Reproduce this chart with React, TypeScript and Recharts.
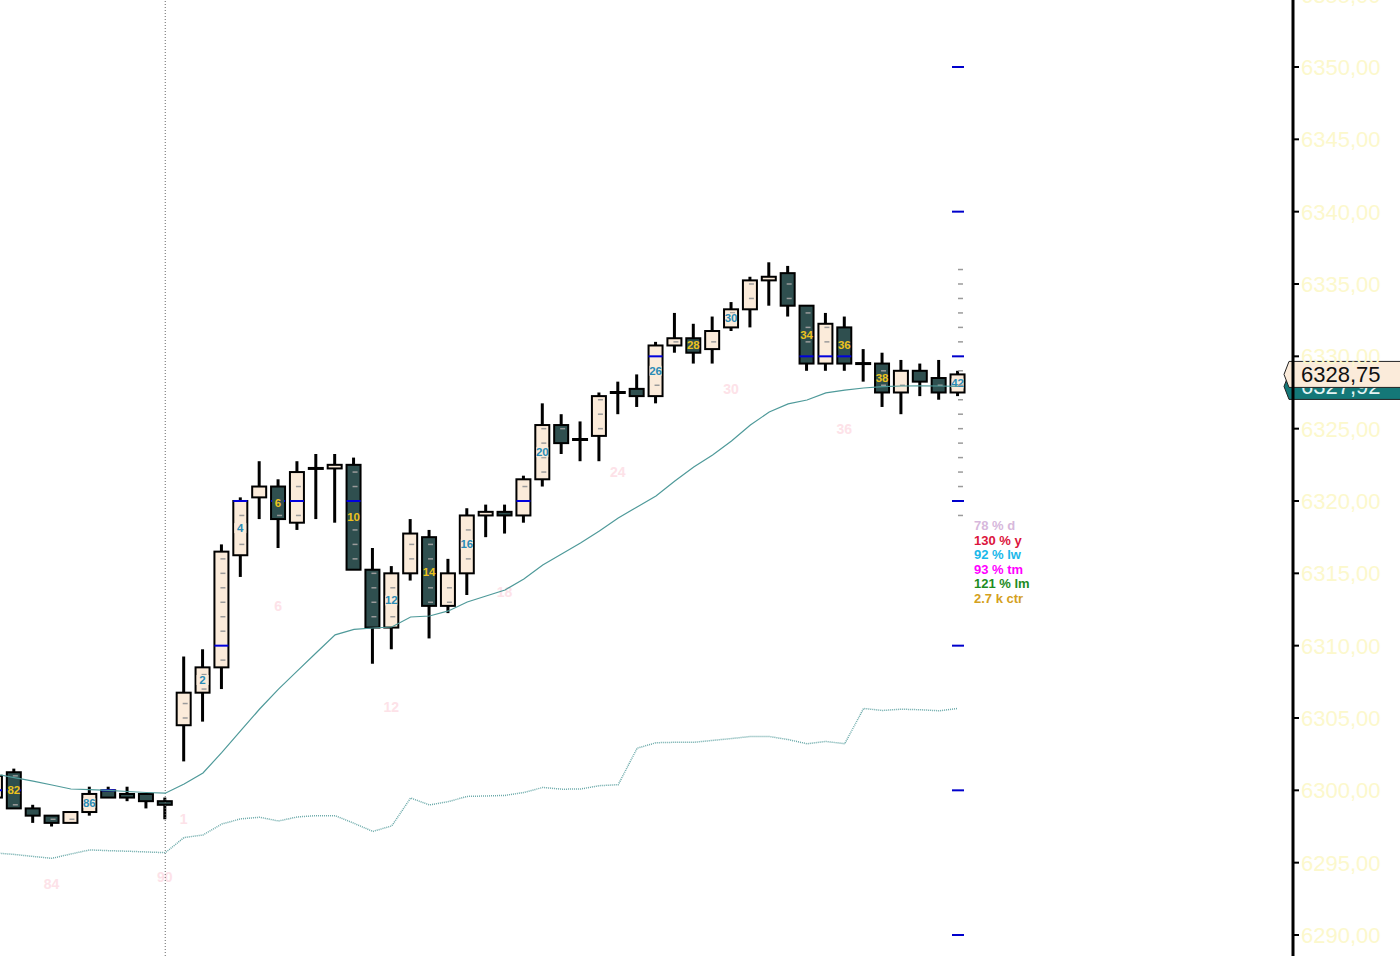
import {
  Bar,
  ComposedChart,
  Line,
  ReferenceLine,
  Scatter,
  XAxis,
  YAxis,
} from "recharts";

// bar slots: 0 is the last bar of the previous session (90), 1.. are today's bars
const slots = [
  -9, -8, -7, -6, -5, -4, -3, -2, -1, 0, 1, 2, 3, 4, 5, 6, 7, 8, 9, 10, 11, 12,
  13, 14, 15, 16, 17, 18, 19, 20, 21, 22, 23, 24, 25, 26, 27, 28, 29, 30, 31,
  32, 33, 34, 35, 36, 37, 38, 39, 40, 41, 42,
];
const barNumbers = [
  81, 82, 83, 84, 85, 86, 87, 88, 89, 90, 1, 2, 3, 4, 5, 6, 7, 8, 9, 10, 11, 12,
  13, 14, 15, 16, 17, 18, 19, 20, 21, 22, 23, 24, 25, 26, 27, 28, 29, 30, 31,
  32, 33, 34, 35, 36, 37, 38, 39, 40, 41, 42,
];

const opens = [
  6299.5, 6301.25, 6298.75, 6298.25, 6297.75, 6298.5, 6300, 6299.75, 6299.75,
  6299.25, 6304.5, 6306.75, 6308.5, 6316.25, 6320.25, 6321, 6318.5, 6322.25,
  6322.25, 6322.5, 6315.25, 6311.25, 6315, 6317.5, 6312.75, 6315, 6319,
  6319.25, 6319, 6321.5, 6325.25, 6324.25, 6324.5, 6327.5, 6327.75, 6327.25,
  6330.75, 6331.25, 6330.5, 6332, 6333.25, 6335.25, 6335.75, 6333.5, 6329.5,
  6332, 6329.5, 6329.5, 6327.5, 6329, 6328.5, 6327.5,
];
const highs = [
  6301.25, 6301.5, 6299, 6298.25, 6298.5, 6300.25, 6300.25, 6300.25, 6299.75,
  6299.5, 6309.25, 6309.75, 6317, 6320.25, 6322.75, 6321.5, 6322.75, 6323.25,
  6323.25, 6323, 6316.75, 6315.5, 6318.75, 6318, 6316, 6319.5, 6319.75,
  6319.75, 6321.75, 6326.75, 6326, 6325.5, 6327.5, 6328.25, 6328.75, 6331,
  6333, 6332.25, 6332.75, 6333.75, 6335.5, 6336.5, 6336.25, 6333.5, 6333,
  6332.75, 6330.5, 6330.25, 6329.75, 6329.5, 6329.75, 6329,
];
const lows = [
  6299.25, 6298.75, 6297.75, 6297.5, 6297.75, 6298.25, 6299.5, 6299.25,
  6298.75, 6298, 6302, 6304.75, 6307, 6314.75, 6318.75, 6316.75, 6318,
  6318.75, 6318.5, 6315.25, 6308.75, 6309.75, 6314.5, 6310.5, 6312.25, 6313.5,
  6317.5, 6317.75, 6318.5, 6321, 6323.25, 6322.75, 6322.75, 6326, 6326.5,
  6326.75, 6330.25, 6329.5, 6329.5, 6331.75, 6332, 6333.5, 6332.75, 6329,
  6329, 6329, 6328.25, 6326.5, 6326, 6327.25, 6327, 6327.25,
];
const closes = [
  6301, 6298.75, 6298.25, 6297.75, 6298.5, 6299.75, 6299.5, 6299.5, 6299.25,
  6299, 6306.75, 6308.5, 6316.5, 6320, 6321, 6318.75, 6322, 6322.25, 6322.5,
  6315.25, 6311.25, 6315, 6317.75, 6312.75, 6315, 6319, 6319.25, 6319, 6321.5,
  6325.25, 6324, 6324.25, 6327.25, 6327.5, 6327.25, 6330.75, 6331.25, 6330.25,
  6331.75, 6333.25, 6335.25, 6335.5, 6333.5, 6329.5, 6332.25, 6329.5, 6329.5,
  6327.5, 6329, 6328.25, 6327.5, 6328.75,
];

// solid average
const fastAvg = [
  6301.13, 6300.88, 6300.64, 6300.37, 6300.09, 6300.05, 6299.99, 6299.92,
  6299.85, 6299.8, 6300.44, 6301.2, 6302.62, 6304.12, 6305.62, 6307.0,
  6308.26, 6309.51, 6310.75, 6311.12, 6311.22, 6311.29, 6311.98, 6312.05,
  6312.4, 6313.02, 6313.43, 6313.85, 6314.61, 6315.58, 6316.34, 6317.1,
  6317.93, 6318.83, 6319.59, 6320.35, 6321.38, 6322.35, 6323.18, 6324.15,
  6325.25, 6326.15, 6326.71, 6326.98, 6327.47, 6327.67, 6327.81, 6327.9,
  6327.95, 6327.96, 6327.95, 6327.92,
];
// dotted average
const slowAvg = [
  6295.67, 6295.57, 6295.43, 6295.3, 6295.6, 6295.88, 6295.83, 6295.79,
  6295.74, 6295.69, 6296.74, 6296.91, 6297.67, 6298.03, 6298.14, 6297.88,
  6298.16, 6298.25, 6298.25, 6297.72, 6297.16, 6297.54, 6299.47, 6298.99,
  6299.22, 6299.58, 6299.61, 6299.65, 6299.85, 6300.2, 6300.08, 6300.09,
  6300.32, 6300.39, 6302.91, 6303.29, 6303.32, 6303.32, 6303.45, 6303.58,
  6303.72, 6303.72, 6303.51, 6303.22, 6303.38, 6303.22, 6305.66, 6305.52,
  6305.61, 6305.57, 6305.5, 6305.66,
];

const priceTicks = [
  6290, 6295, 6300, 6305, 6310, 6315, 6320, 6325, 6330, 6335, 6340, 6345, 6350,
  6355,
];
const ladderMajor = [6290, 6300, 6310, 6320, 6330, 6340, 6350];
const ladderMinor = [
  6319, 6321, 6322, 6323, 6324, 6325, 6326, 6327, 6328, 6329, 6331, 6332, 6333,
  6334, 6335, 6336,
];
const ladderSlot = 42;

const statLabels = ["78 % d", "130 % y", "92 % lw", "93 % tm", "121 % lm", "2.7 k ctr"];
const statColors = ["#d7b8dc", "#dc143c", "#1ab8ea", "#ff00ff", "#1e8c1e", "#d4a020"];

const DARK = "#2f4f4f";
const LIGHT = "#fbebda";

const rows = slots.map((slot, i) => ({
  slot,
  num: barNumbers[i],
  open: opens[i],
  high: highs[i],
  low: lows[i],
  close: closes[i],
  range: [lows[i], highs[i]],
  fast: fastAvg[i],
  slow: slowAvg[i],
  last: i === slots.length - 1,
}));

const ladder = [
  ...ladderMajor.map((price) => ({ slot: ladderSlot, price, major: true })),
  ...ladderMinor.map((price) => ({ slot: ladderSlot, price, major: false })),
];

const fmt = (v: number) => v.toFixed(2).replace(".", ",");

function Candle(props: any) {
  const { x, y, width, height, payload } = props;
  if (!payload) return null;
  const { open, high, low, close, num, last } = payload;
  const top = height < 0 ? y + height : y;
  const span = Math.abs(height);
  const ppu = span / (high - low);
  const py = (v: number) => top + (high - v) * ppu;
  const cx = x + width / 2;
  const up = close > open;
  const bodyHi = Math.max(open, close);
  const bodyLo = Math.min(open, close);
  const bTop = py(bodyHi);
  const bBot = py(bodyLo);
  const fill = up ? LIGHT : DARK;
  const half = 7;

  const marks: any[] = [];
  for (let v = Math.ceil(bodyLo); v <= Math.floor(bodyHi); v++) {
    if (v % 10 === 0) {
      marks.push(
        <line key={"b" + v} x1={cx - half} x2={cx + half} y1={py(v)} y2={py(v)} stroke="#0000dd" strokeWidth={2} />
      );
    } else if (v > bodyLo && v < bodyHi) {
      marks.push(
        <line key={"g" + v} x1={cx - 1} x2={cx + 4} y1={py(v)} y2={py(v)} stroke="#9b9b9b" strokeWidth={1.5} />
      );
    }
  }

  const showNum = num % 2 === 0 && bodyHi - bodyLo >= 1;
  const showSession = (num % 6 === 0 || num === 1) && !last;
  const midY = (bTop + bBot) / 2;

  return (
    <g>
      <line x1={cx} x2={cx} y1={py(high)} y2={py(low)} stroke="#000" strokeWidth={3} />
      {open === close ? (
        <line x1={cx - 8} x2={cx + 8} y1={bTop} y2={bTop} stroke="#000" strokeWidth={3} />
      ) : (
        <rect
          x={cx - half}
          y={bTop}
          width={half * 2}
          height={Math.max(bBot - bTop, 2)}
          fill={fill}
          stroke="#000"
          strokeWidth={2}
        />
      )}
      {marks}
      {showNum && (
        <g>
          <rect x={cx - 6} y={midY - 5} width={12} height={10} fill={fill} />
          <text
            x={cx}
            y={midY}
            dy={4}
            textAnchor="middle"
            fontSize={11.5}
            fontWeight="bold"
            fill={up ? "#2b8cb6" : "#ecc21e"}
          >
            {num}
          </text>
        </g>
      )}
      {showSession && (
        <text x={cx} y={py(low) + 58} dy={5} textAnchor="middle" fontSize={14} fontWeight="bold" fill="#fde2e8">
          {num}
        </text>
      )}
    </g>
  );
}

function LadderMark(props: any) {
  const { cx, cy, payload } = props;
  if (cx == null || cy == null) return null;
  return payload.major ? (
    <line x1={cx - 6} x2={cx + 6} y1={cy} y2={cy} stroke="#0000cc" strokeWidth={2} />
  ) : (
    <line x1={cx} x2={cx + 5} y1={cy} y2={cy} stroke="#9b9b9b" strokeWidth={1.5} />
  );
}

function PriceTick(props: any) {
  const { x, y, payload } = props;
  return (
    <text x={x} y={y} dy={8} fontSize={22} fill="#fcf8cc" textAnchor="start">
      {fmt(payload.value)}
    </text>
  );
}

function PriceFlag(props: any) {
  const { viewBox, text, fill, color } = props;
  if (!viewBox) return null;
  const yy = viewBox.y;
  const edge = viewBox.x + viewBox.width;
  const tip = edge - 9;
  const left = edge - 4;
  const right = edge + 120;
  const h = 13;
  const d = `M${tip},${yy} L${left},${yy - h} L${right},${yy - h} L${right},${yy + h} L${left},${yy + h} Z`;
  return (
    <g>
      <path d={d} fill={fill} stroke="#222" strokeWidth={1} />
      <text x={edge + 8} y={yy} dy={8} fontSize={22} fill={color}>
        {text}
      </text>
    </g>
  );
}

export default function App() {
  const lastRow = rows[rows.length - 1];
  return (
    <div
      style={{
        position: "absolute",
        left: 0,
        top: 0,
        width: 1400,
        height: 956,
        background: "#fff",
        overflow: "hidden",
        fontFamily: "Arial, 'Liberation Sans', sans-serif",
      }}
    >
      <ComposedChart width={1400} height={956} data={rows} margin={{ top: 0, right: 0, bottom: 0, left: 0 }}>
        <XAxis type="number" dataKey="slot" domain={[-8.755, 59.75]} allowDataOverflow hide />
        <YAxis
          orientation="right"
          width={107}
          domain={[6288.548, 6354.631]}
          allowDataOverflow
          ticks={priceTicks}
          interval={0}
          axisLine={{ stroke: "#000", strokeWidth: 3 }}
          tickLine={{ stroke: "#000", strokeWidth: 2 }}
          tickSize={6}
          tickMargin={2}
          tick={<PriceTick />}
        />
        <ReferenceLine x={0} stroke="#666" strokeDasharray="1 2" />
        <Bar dataKey="range" barSize={16} isAnimationActive={false} shape={(p: any) => <Candle {...p} />} />
        <Line type="linear" dataKey="slow" stroke="#6aa9a9" strokeWidth={1.5} strokeDasharray="1 1" dot={false} isAnimationActive={false} />
        <Line type="linear" dataKey="fast" stroke="#4f9a9a" strokeWidth={1.2} dot={false} isAnimationActive={false} />
        <Scatter data={ladder} dataKey="price" isAnimationActive={false} shape={(p: any) => <LadderMark {...p} />} />
        <ReferenceLine
          y={lastRow.fast}
          stroke="none"
          label={<PriceFlag text={fmt(lastRow.fast)} fill="#147878" color="#e4f4f4" />}
        />
        <ReferenceLine
          y={lastRow.close}
          stroke="none"
          label={<PriceFlag text={fmt(lastRow.close)} fill={LIGHT} color="#111" />}
        />
      </ComposedChart>
      <div
        style={{
          position: "absolute",
          left: 974,
          top: 519,
          fontSize: 13,
          fontWeight: "bold",
          lineHeight: "14.6px",
        }}
      >
        {statLabels.map((s, i) => (
          <div key={s} style={{ color: statColors[i] }}>
            {s}
          </div>
        ))}
      </div>
    </div>
  );
}
